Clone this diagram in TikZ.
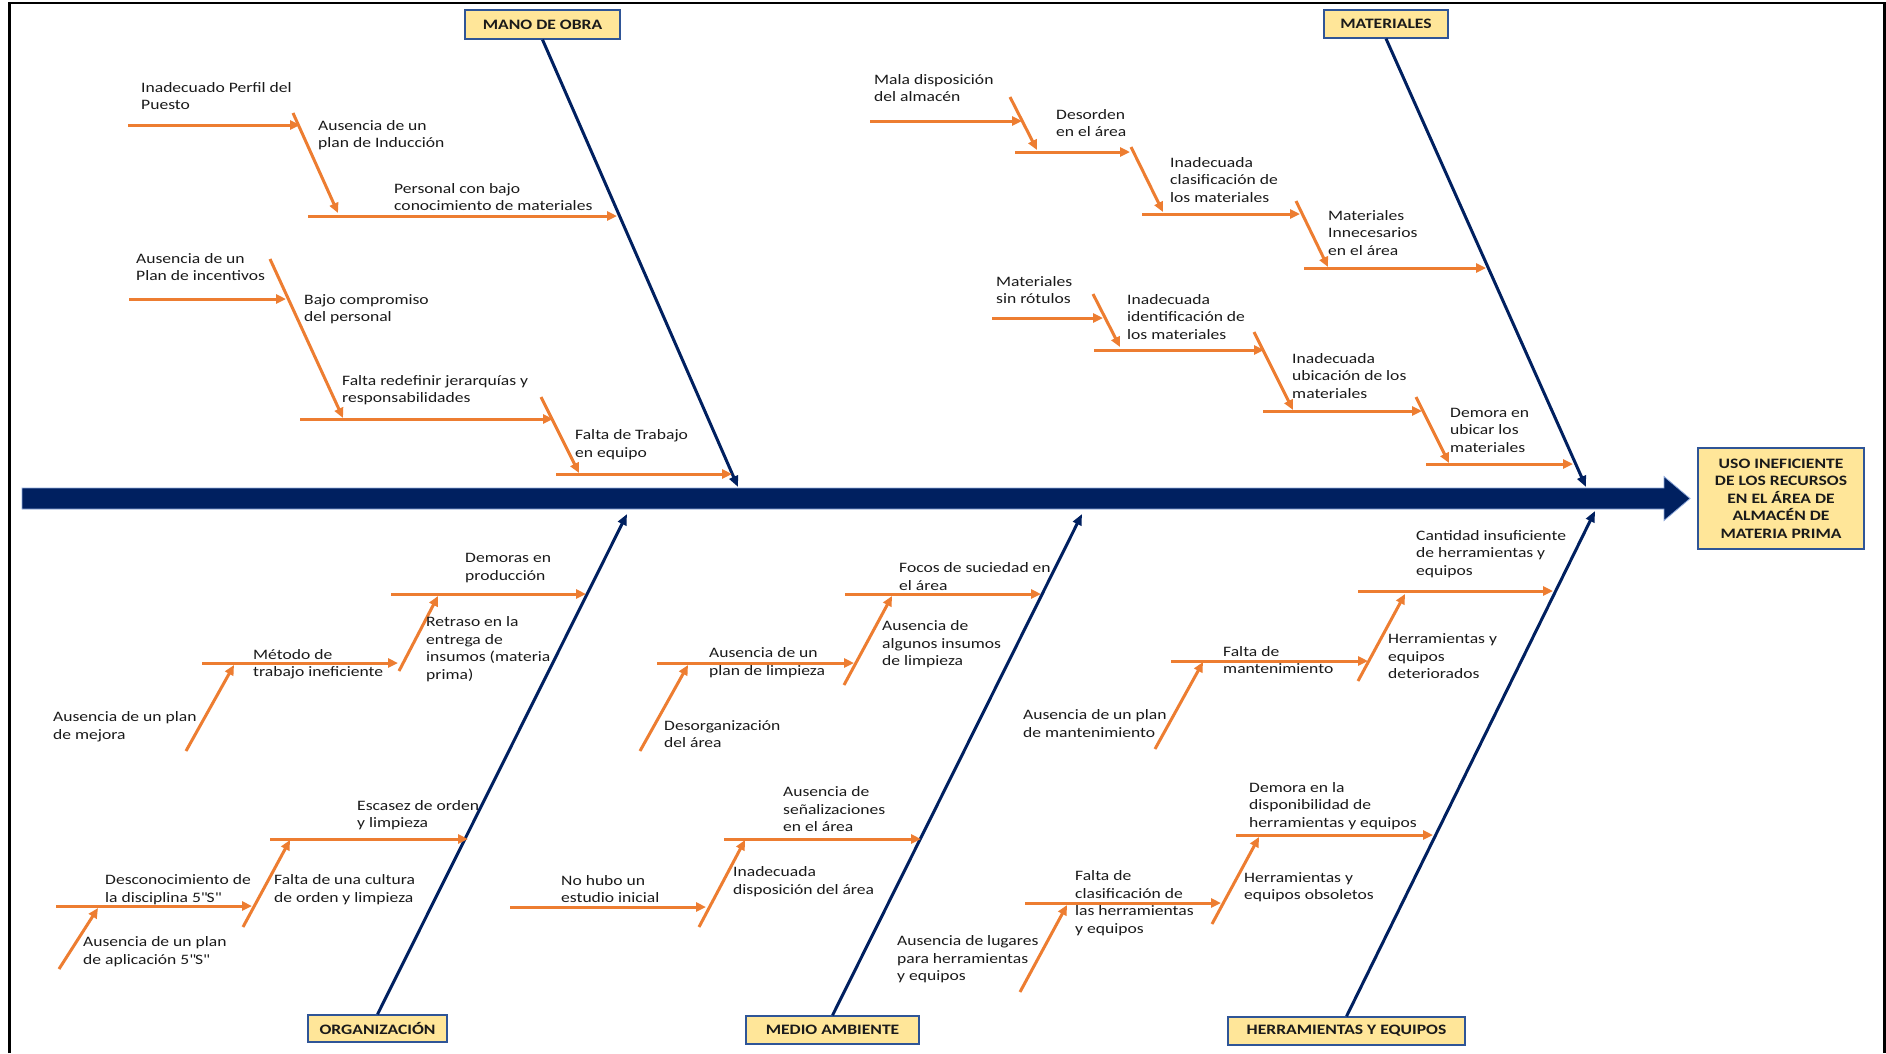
\documentclass[tikz,border=0pt]{standalone}
\usepackage{fontspec}
\setmainfont{Carlito}[FakeStretch=1.22]
\usetikzlibrary{arrows.meta}
\definecolor{navy}{HTML}{002060}
\definecolor{orng}{HTML}{ED7D31}
\definecolor{boxfill}{HTML}{FFE699}
\definecolor{boxline}{HTML}{2F5597}
\definecolor{spineedge}{HTML}{8FAADC}
\definecolor{txt}{HTML}{1A1A1A}

\begin{document}
\begin{tikzpicture}[x=1bp,y=-1bp,
  causeline/.style={draw=orng, line width=3bp, -{Triangle[length=10bp,width=9bp]}},
  boneline/.style={draw=navy, line width=3bp, -{Triangle[length=11bp,width=9bp]}},
  catbox/.style={draw=boxline, fill=boxfill, line width=1.3bp, inner sep=0pt,
    font=\bfseries\fontsize{14.4bp}{17.5bp}\selectfont, text=txt},
  lbl/.style={anchor=west, align=left, inner sep=0pt,
    font=\fontsize{14.4bp}{17.5bp}\selectfont, text=txt},
]
\useasboundingbox (0,0) rectangle (1886,1053);
\fill[white] (0,0) rectangle (1886,1053);

% outer frame (open at the bottom)
\draw[black, line width=2.6bp] (9.5,1053) -- (9.5,3) -- (1884.5,3) -- (1884.5,1053);

% spine with its arrow head
\draw[spineedge, line width=0.8bp, fill=navy]
  (22,488) -- (1664,488) -- (1664,476.5) -- (1690,498.5) -- (1664,520.5)
  -- (1664,509) -- (22,509) -- cycle;

% effect
\node[catbox, line width=1.6bp, minimum width=166bp, minimum height=101bp, align=center]
  (ef) at (1781,498.5) {USO INEFICIENTE\\DE LOS RECURSOS\\EN EL ÁREA DE\\ALMACÉN DE\\MATERIA PRIMA};

% category boxes
\node[catbox, minimum width=155bp, minimum height=29bp] (mo) at (542.5,24.5) {MANO DE OBRA};
\node[catbox, minimum width=124bp, minimum height=28bp] (ma) at (1386,24) {MATERIALES};
\node[catbox, minimum width=139bp, minimum height=27bp] (or) at (377.5,1028.5) {ORGANIZACIÓN};
\node[catbox, minimum width=173bp, minimum height=28bp] (me) at (832.5,1030) {MEDIO AMBIENTE};
\node[catbox, minimum width=237bp, minimum height=28bp] (he) at (1346.5,1031) {HERRAMIENTAS Y EQUIPOS};

% bone ends on the spine
\coordinate (moT) at (738,487);
\coordinate (maT) at (1586,487);
\coordinate (orT) at (627,514);
\coordinate (meT) at (1082,514);
\coordinate (heT) at (1595,511);
\draw[boneline] (mo.south) -- (moT);
\draw[boneline] (ma.south) -- (maT);
\draw[boneline] (or.north) -- (orT);
\draw[boneline] (me.north) -- (meT);
\draw[boneline] (he.north) -- (heT);

% ---------------- MANO DE OBRA ----------------
\coordinate (a1s) at (128,125);  \coordinate (a1e) at (300,125);
\coordinate (a2s) at (293,113);  \coordinate (a2e) at (338,213);
\coordinate (a3s) at (308,216);  \coordinate (a3e) at (617,216);
\coordinate (a4s) at (129,299);  \coordinate (a4e) at (286,299);
\coordinate (a5s) at (270,259);  \coordinate (a5e) at (343,418);
\coordinate (a6s) at (300,419);  \coordinate (a6e) at (553,419);
\coordinate (a7s) at (541,397);  \coordinate (a7e) at (579,473);
\coordinate (a8s) at (556,474);  \coordinate (a8e) at (732,474);
\foreach \i in {1,...,8} \draw[causeline] (a\i s) -- (a\i e);
\node[lbl] (ta1) at (141,96) {Inadecuado Perfil del\\Puesto};
\node[lbl] (ta2) at (318,135) {Ausencia de un\\plan de Inducción};
\node[lbl] (ta3) at (394,197) {Personal con bajo\\conocimiento de materiales};
\node[lbl] (ta4) at (136,267) {Ausencia de un\\Plan de incentivos};
\node[lbl] (ta5) at (304,309) {Bajo compromiso\\del personal};
\node[lbl] (ta6) at (342,390) {Falta redefinir jerarquías y\\responsabilidades};
\node[lbl] (ta7) at (575,444.5) {Falta de Trabajo\\en equipo};

% ---------------- MATERIALES ----------------
\coordinate (b1s) at (870,121);   \coordinate (b1e) at (1022,121);
\coordinate (b2s) at (1010,97);   \coordinate (b2e) at (1037,150);
\coordinate (b3s) at (1015,152);  \coordinate (b3e) at (1130,152);
\coordinate (b4s) at (1131,147);  \coordinate (b4e) at (1163,212);
\coordinate (b5s) at (1142,214);  \coordinate (b5e) at (1300,214);
\coordinate (b6s) at (1296,201);  \coordinate (b6e) at (1328,267);
\coordinate (b7s) at (1304,268);  \coordinate (b7e) at (1486,268);
\coordinate (b8s) at (992,318);   \coordinate (b8e) at (1103,318);
\coordinate (b9s) at (1093,294);  \coordinate (b9e) at (1120,347);
\coordinate (b10s) at (1094,350); \coordinate (b10e) at (1264,350);
\coordinate (b11s) at (1254,332); \coordinate (b11e) at (1293,410);
\coordinate (b12s) at (1263,411); \coordinate (b12e) at (1422,411);
\coordinate (b13s) at (1416,397); \coordinate (b13e) at (1449,463);
\coordinate (b14s) at (1426,464); \coordinate (b14e) at (1573,464);
\foreach \i in {1,...,14} \draw[causeline] (b\i s) -- (b\i e);
\node[lbl] (tb1) at (874,88) {Mala disposición\\del almacén};
\node[lbl] (tb2) at (1056,123) {Desorden\\en el área};
\node[lbl] (tb4) at (1170,180) {Inadecuada\\clasificación de\\los materiales};
\node[lbl] (tb6) at (1328,233) {Materiales\\Innecesarios\\en el área};
\node[lbl] (tb8) at (996,290) {Materiales\\sin rótulos};
\node[lbl] (tb9) at (1127,317) {Inadecuada\\identificación de\\los materiales};
\node[lbl] (tb11) at (1292,376) {Inadecuada\\ubicación de los\\materiales};
\node[lbl] (tb13) at (1450,430) {Demora en\\ubicar los\\materiales};

% ---------------- ORGANIZACIÓN ----------------
\coordinate (c1s) at (391,594);  \coordinate (c1e) at (586,594);
\coordinate (c2s) at (399,671);  \coordinate (c2e) at (438,596);
\coordinate (c3s) at (202,663);  \coordinate (c3e) at (398,663);
\coordinate (c4s) at (186,751);  \coordinate (c4e) at (234,665);
\coordinate (c5s) at (270,839);  \coordinate (c5e) at (468,839);
\coordinate (c6s) at (243,927);  \coordinate (c6e) at (290,840);
\coordinate (c7s) at (56,906);   \coordinate (c7e) at (252,906);
\coordinate (c8s) at (59,969);   \coordinate (c8e) at (98,908);
\foreach \i in {1,...,8} \draw[causeline] (c\i s) -- (c\i e);
\node[lbl] (tc1) at (465,568) {Demoras en\\producción};
\node[lbl] (tc2) at (426,649) {Retraso en la\\entrega de\\insumos (materia\\prima)};
\node[lbl] (tc3) at (253,664) {Método de\\trabajo ineficiente};
\node[lbl] (tc4) at (53,726.5) {Ausencia de un plan\\de mejora};
\node[lbl] (tc5) at (357,815) {Escasez de orden\\y limpieza};
\node[lbl] (tc6) at (274,889.5) {Falta de una cultura\\de orden y limpieza};
\node[lbl] (tc7) at (105,889.5) {Desconocimiento de\\la disciplina 5\textquotedbl S\textquotedbl};
\node[lbl] (tc8) at (83,951.5) {Ausencia de un plan\\de aplicación 5\textquotedbl S\textquotedbl};

% ---------------- MEDIO AMBIENTE ----------------
\coordinate (d1s) at (845,594);  \coordinate (d1e) at (1041,594);
\coordinate (d2s) at (844,685);  \coordinate (d2e) at (892,596);
\coordinate (d3s) at (657,663);  \coordinate (d3e) at (854,663);
\coordinate (d4s) at (640,751);  \coordinate (d4e) at (688,665);
\coordinate (d5s) at (724,839);  \coordinate (d5e) at (921,839);
\coordinate (d6s) at (699,927);  \coordinate (d6e) at (745,840);
\coordinate (d7s) at (510,907);  \coordinate (d7e) at (706,907);
\foreach \i in {1,...,7} \draw[causeline] (d\i s) -- (d\i e);
\node[lbl] (td1) at (899,576.5) {Focos de suciedad en\\el área};
\node[lbl] (td2) at (882,644.5) {Ausencia de\\algunos insumos\\de limpieza};
\node[lbl] (td3) at (709,662.5) {Ausencia de un\\plan de limpieza};
\node[lbl] (td4) at (664,734) {Desorganización\\del área};
\node[lbl] (td5) at (783,809.5) {Ausencia de\\señalizaciones\\en el área};
\node[lbl] (td6) at (733,881.5) {Inadecuada\\disposición del área};
\node[lbl] (td7) at (561,889) {No hubo un\\estudio inicial};

% ---------------- HERRAMIENTAS Y EQUIPOS ----------------
\coordinate (e1s) at (1358,591);  \coordinate (e1e) at (1553,591);
\coordinate (e2s) at (1358,681);  \coordinate (e2e) at (1405,594);
\coordinate (e3s) at (1171,661);  \coordinate (e3e) at (1368,661);
\coordinate (e4s) at (1155,749);  \coordinate (e4e) at (1203,662);
\coordinate (e5s) at (1236,835);  \coordinate (e5e) at (1433,835);
\coordinate (e6s) at (1212,924);  \coordinate (e6e) at (1259,837);
\coordinate (e7s) at (1025,903);  \coordinate (e7e) at (1221,903);
\coordinate (e8s) at (1020,992);  \coordinate (e8e) at (1067,905);
\foreach \i in {1,...,8} \draw[causeline] (e\i s) -- (e\i e);
\node[lbl] (te1) at (1416,554) {Cantidad insuficiente\\de herramientas y\\equipos};
\node[lbl] (te2) at (1388,656.5) {Herramientas y\\equipos\\deteriorados};
\node[lbl] (te3) at (1223,660) {Falta de\\mantenimiento};
\node[lbl] (te4) at (1023,723.5) {Ausencia de un plan\\de mantenimiento};
\node[lbl] (te5) at (1249,806) {Demora en la\\disponibilidad de\\herramientas y equipos};
\node[lbl] (te6) at (1244,887) {Herramientas y\\equipos obsoletos};
\node[lbl] (te7) at (1075,903) {Falta de\\clasificación de\\las herramientas\\y equipos};
\node[lbl] (te8) at (897,959.5) {Ausencia de lugares\\para herramientas\\y equipos};
\end{tikzpicture}
\end{document}
